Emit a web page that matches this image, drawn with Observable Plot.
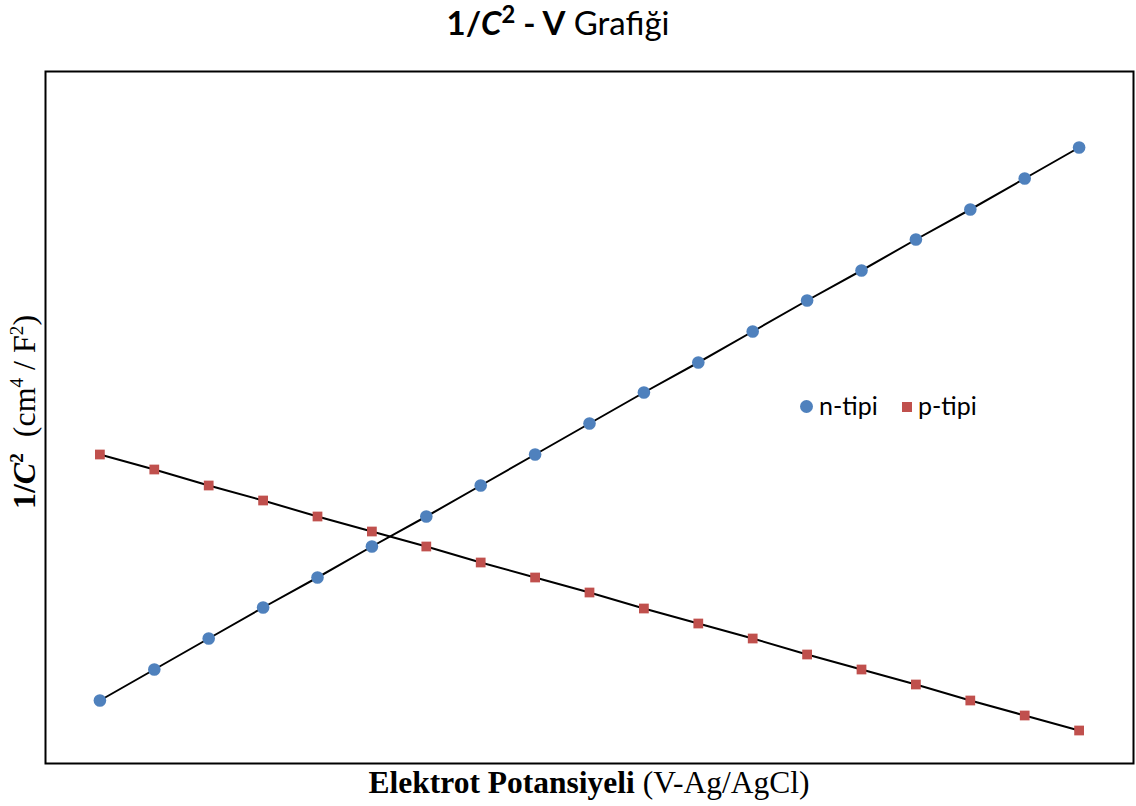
<!DOCTYPE html>
<html>
<head>
<meta charset="utf-8">
<script src="https://cdn.jsdelivr.net/npm/d3@7"></script>
<script src="https://cdn.jsdelivr.net/npm/@observablehq/plot@0.6"></script>
<style>
  html, body { margin: 0; padding: 0; background: #fff; }
  #wrap { position: relative; width: 1136px; height: 806px; overflow: hidden; }
  #chart { position: absolute; left: 0; top: 0; }
  .title { position: absolute; top: 2px; left: 358px; width: 400px; text-align: center;
           font-family: Lato, "Open Sans", sans-serif; font-size: 33px; color: #000; white-space: nowrap; }
  sup { font-size: 0.72em; line-height: 0; }
  .ylab { position: absolute; left: 24px; top: 412px; transform: translate(-50%, -50%) rotate(-90deg);
          font-family: "Liberation Serif", "DejaVu Serif", serif; font-size: 32px; white-space: nowrap; color: #000; }
  .ylab sup { font-size: 0.6em; }
  .xlab { position: absolute; top: 765px; left: 289px; width: 600px; text-align: center;
          font-family: "Liberation Serif", "DejaVu Serif", serif; font-size: 31.5px; white-space: nowrap; color: #000; }
  .legend { position: absolute; left: 800px; top: 390px; font-family: Lato, "Open Sans", sans-serif;
            font-size: 25px; color: #000; white-space: nowrap; }
  .legend span.item { margin-right: 18px; }
  .sw { display: inline-block; vertical-align: middle; margin-right: 6px; position: relative; top: -2px; }
</style>
</head>
<body>
<div id="wrap">
  <div id="chart"></div>
  <div class="title"><b>1/<i>C</i><sup>2</sup> - V</b> Grafiği</div>
  <div class="ylab"><b>1/<i>C</i><sup>2</sup></b>&nbsp; (cm<sup>4</sup> / F<sup>2</sup>)</div>
  <div class="xlab"><b>Elektrot Potansiyeli</b> (V-Ag/AgCl)</div>
  <div class="legend">
    <span class="item"><span class="sw" style="width:13px;height:13px;border-radius:50%;background:#4F81BD"></span>n-tipi</span>
    <span class="item"><span class="sw" style="width:10px;height:10px;background:#C0504D"></span>p-tipi</span>
  </div>
</div>
<script>
// Electrode potential steps (index of measurement)
const potential = [0, 1, 2, 3, 4, 5, 6, 7, 8, 9, 10, 11, 12, 13, 14, 15, 16, 17, 18];
// 1/C^2 values (arbitrary units)
const nTipi = [63, 94, 125, 156, 186, 217, 247, 278, 309, 340, 371, 401, 432, 463, 493, 524, 554, 585, 616];
const pTipi = [309, 294, 278, 263, 247, 232, 217, 201, 186, 171, 155, 140, 125, 109, 94, 79, 63, 48, 33];
const seriesNames = ["n-tipi", "p-tipi"];
const seriesColors = ["#4F81BD", "#C0504D"];

const nData = potential.map((v, i) => ({x: v, y: nTipi[i], s: seriesNames[0]}));
const pData = potential.map((v, i) => ({x: v, y: pTipi[i], s: seriesNames[1]}));

const chart = Plot.plot({
  width: 1136,
  height: 806,
  marginLeft: 45,
  marginRight: 3,
  marginTop: 71,
  marginBottom: 43,
  x: {domain: [-1, 19], axis: null},
  y: {domain: [0, 692], axis: null},
  color: {domain: seriesNames, range: seriesColors},
  marks: [
    Plot.frame({stroke: "#000", strokeWidth: 2}),
    Plot.line(nData, {x: "x", y: "y", stroke: "#000", strokeWidth: 2}),
    Plot.line(pData, {x: "x", y: "y", stroke: "#000", strokeWidth: 2}),
    Plot.dot(nData, {x: "x", y: "y", fill: "s", r: 6.3, symbol: "circle"}),
    Plot.dot(pData, {x: "x", y: "y", fill: "s", r: 5.5, symbol: "square"})
  ]
});
document.getElementById("chart").appendChild(chart);
</script>
</body>
</html>
